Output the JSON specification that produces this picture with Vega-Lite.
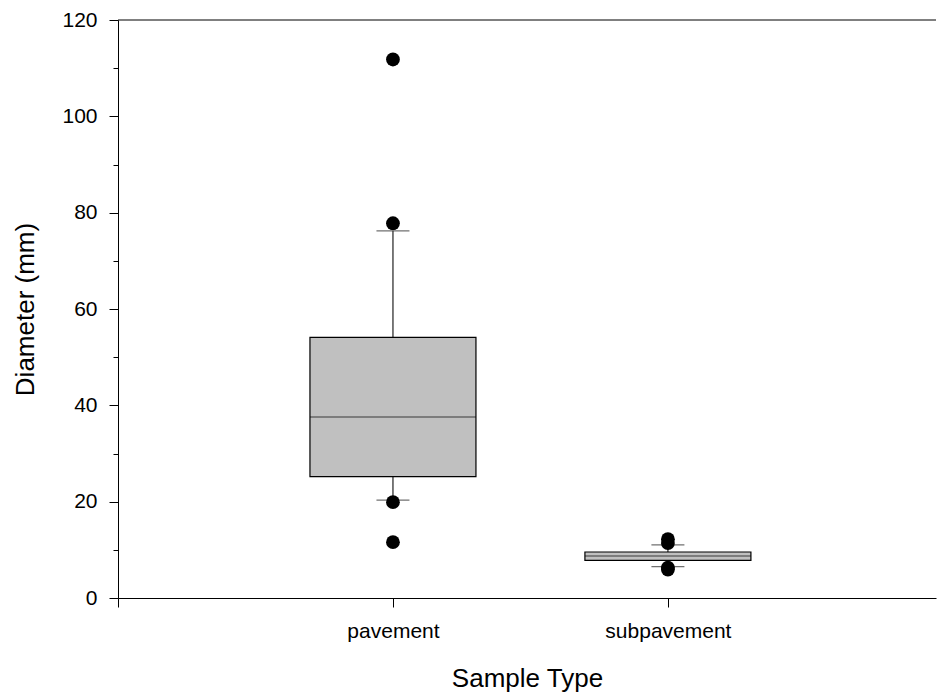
{
  "$schema": "https://vega.github.io/schema/vega-lite/v6.json",
  "width": 818,
  "height": 578,
  "autosize": {"type": "none"},
  "padding": {"left": 118, "top": 20, "right": 1, "bottom": 100},
  "background": "white",
  "config": {
    "view": {"stroke": null},
    "font": "Liberation Sans",
    "axis": {
      "domainColor": "black",
      "domainWidth": 1,
      "tickColor": "black",
      "tickWidth": 1,
      "grid": false,
      "labelFont": "Liberation Sans",
      "titleFont": "Liberation Sans",
      "labelFontSize": 21,
      "titleFontSize": 26,
      "titleFontWeight": "normal",
      "labelColor": "black",
      "titleColor": "black"
    }
  },
  "datasets": {
    "boxes": [
      {"type": "pavement", "pos": 1, "lo": 20.3, "q1": 25.2, "med": 37.6, "q3": 54.1, "hi": 76.2},
      {"type": "subpavement", "pos": 2, "lo": 6.5, "q1": 7.8, "med": 8.7, "q3": 9.55, "hi": 11.05}
    ],
    "outliers": [
      {"type": "pavement", "pos": 1, "d": 111.8},
      {"type": "pavement", "pos": 1, "d": 77.8},
      {"type": "pavement", "pos": 1, "d": 19.9},
      {"type": "pavement", "pos": 1, "d": 11.6},
      {"type": "subpavement", "pos": 2, "d": 12.2},
      {"type": "subpavement", "pos": 2, "d": 11.4},
      {"type": "subpavement", "pos": 2, "d": 6.3},
      {"type": "subpavement", "pos": 2, "d": 5.9}
    ]
  },
  "layer": [
    {
      "data": {"name": "boxes"},
      "mark": {"type": "rule", "color": "#333333", "strokeWidth": 1.3},
      "encoding": {
        "x": {
          "field": "pos",
          "type": "quantitative",
          "scale": {"domain": [0, 2.975], "nice": false, "zero": false, "padding": 0},
          "axis": {
            "values": [0, 1, 2],
            "labelExpr": "datum.value == 1 ? 'pavement' : datum.value == 2 ? 'subpavement' : ''",
            "tickSize": 9,
            "labelPadding": 13,
            "title": "Sample Type",
            "titlePadding": 24
          }
        },
        "y": {
          "field": "lo",
          "type": "quantitative",
          "scale": {"domain": [0, 120], "nice": false, "padding": 0},
          "axis": {
            "values": [0, 10, 20, 30, 40, 50, 60, 70, 80, 90, 100, 110, 120],
            "labelExpr": "datum.value % 20 == 0 ? datum.label : ''",
            "tickSize": {"condition": {"test": "datum.value % 20 == 0", "value": 9}, "value": 5},
            "labelPadding": 12,
            "title": "Diameter (mm)",
            "titlePadding": 23
          }
        },
        "y2": {"field": "hi"}
      }
    },
    {
      "data": {"name": "boxes"},
      "mark": {"type": "bar", "size": 166, "fill": "#c0c0c0", "stroke": "black", "strokeWidth": 1.2},
      "encoding": {
        "x": {"field": "pos", "type": "quantitative"},
        "y": {"field": "q1", "type": "quantitative"},
        "y2": {"field": "q3"}
      }
    },
    {
      "data": {"name": "boxes"},
      "mark": {"type": "tick", "orient": "horizontal", "size": 166, "thickness": 1, "color": "black"},
      "encoding": {
        "x": {"field": "pos", "type": "quantitative"},
        "y": {"field": "med", "type": "quantitative"}
      }
    },
    {
      "data": {"name": "boxes"},
      "mark": {"type": "tick", "orient": "horizontal", "size": 33, "thickness": 1.3, "color": "#333333"},
      "encoding": {
        "x": {"field": "pos", "type": "quantitative"},
        "y": {"field": "hi", "type": "quantitative"}
      }
    },
    {
      "data": {"name": "boxes"},
      "mark": {"type": "tick", "orient": "horizontal", "size": 33, "thickness": 1.3, "color": "#333333"},
      "encoding": {
        "x": {"field": "pos", "type": "quantitative"},
        "y": {"field": "lo", "type": "quantitative"}
      }
    },
    {
      "data": {"name": "outliers"},
      "mark": {"type": "circle", "size": 190, "color": "black", "opacity": 1},
      "encoding": {
        "x": {"field": "pos", "type": "quantitative"},
        "y": {"field": "d", "type": "quantitative"}
      }
    },
    {
      "data": {"values": [{}]},
      "mark": {"type": "rule", "color": "black", "strokeWidth": 1},
      "encoding": {"y": {"datum": 120}}
    }
  ]
}
